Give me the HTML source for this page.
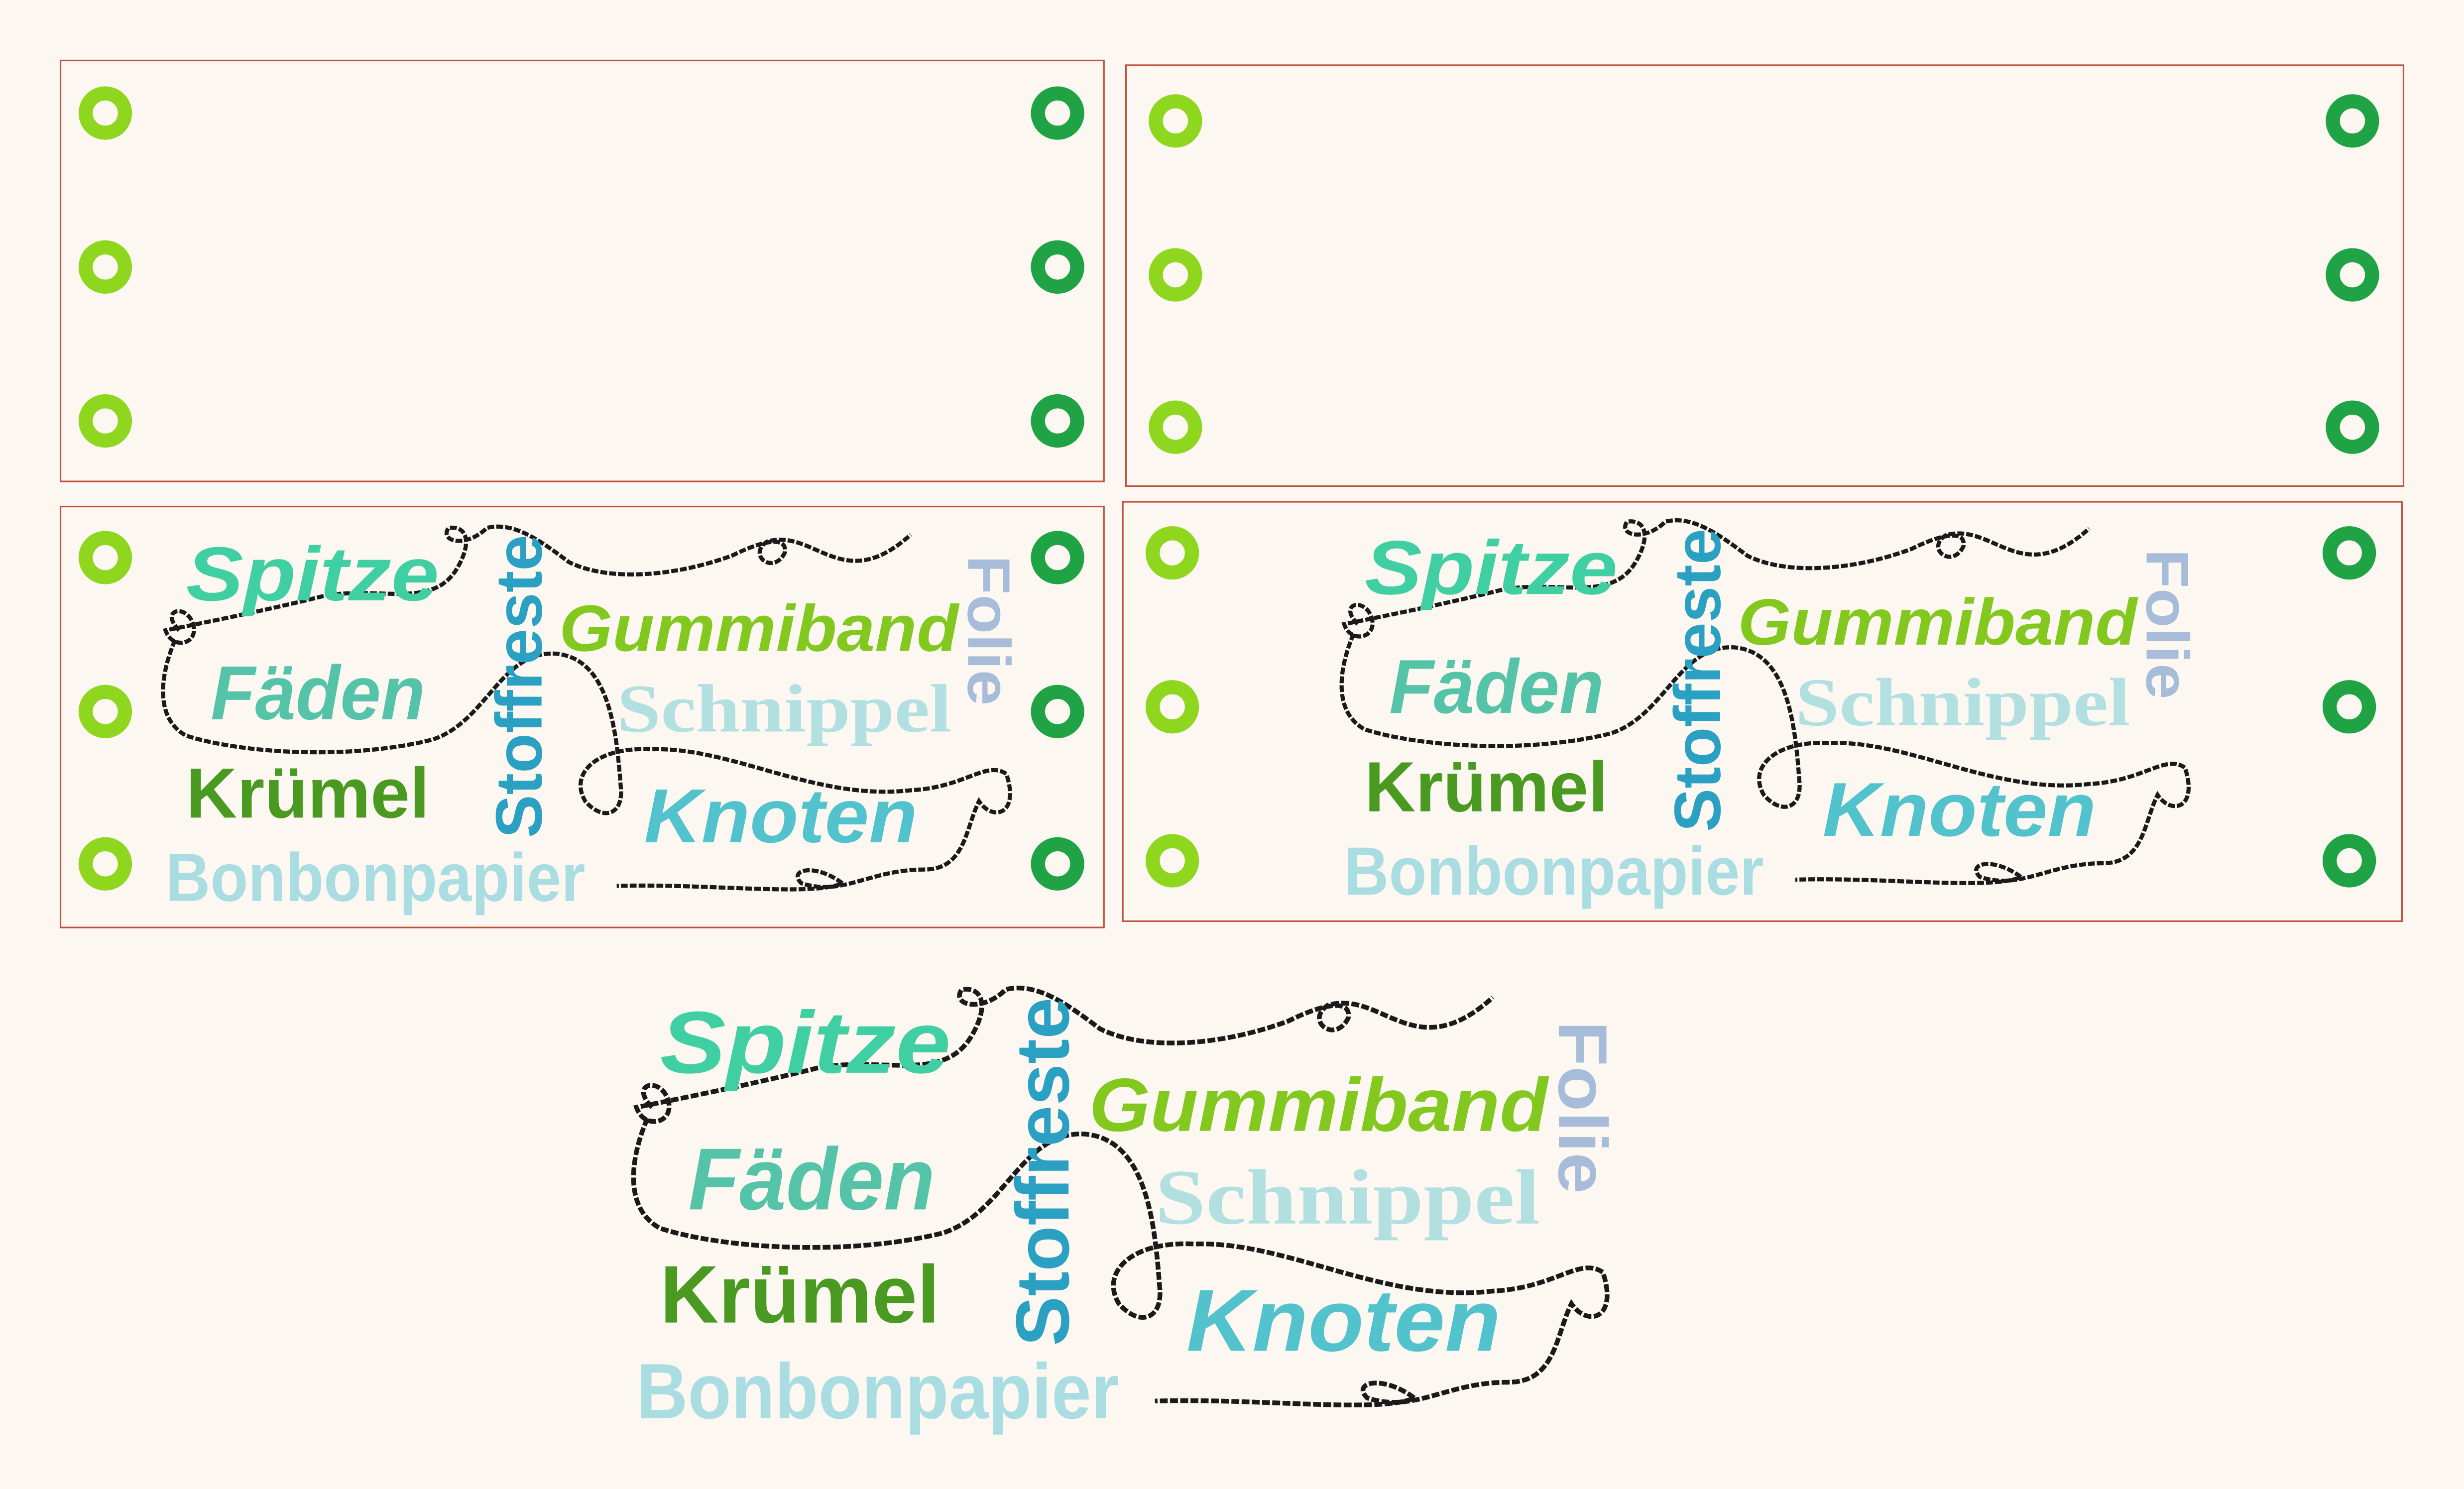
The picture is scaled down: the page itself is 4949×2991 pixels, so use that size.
<!DOCTYPE html>
<html><head><meta charset="utf-8"><style>
html,body{margin:0;padding:0;background:#fdf7f2;}
svg{display:block}
text{font-weight:bold}
</style></head><body>
<svg width="4949" height="2991" viewBox="0 0 1568 948" preserveAspectRatio="none" xmlns="http://www.w3.org/2000/svg">
<defs>
<g id="design">
  <g fill="none" stroke="#1a1a1a" stroke-width="3" stroke-dasharray="5 1.5">
    <path d="M415,705 C400,690 420,685 425,700 C430,715 410,720 405,705 C430,700 480,690 520,680 C560,672 600,690 618,660 C630,640 625,628 612,630 C605,640 625,645 640,630 C660,625 680,640 700,655 C730,670 780,665 820,650 C840,640 860,635 858,648 C850,665 830,650 845,640 C880,630 900,680 950,635"/>
    <path d="M412,712 C400,740 398,770 420,782 C460,795 540,800 600,785 C640,772 650,720 690,722 C730,725 735,780 738,820 C740,840 725,845 712,830 C700,810 720,790 760,792 C820,790 880,830 950,822 C990,820 1005,800 1020,810 C1030,840 1010,845 1000,830 C990,850 990,880 960,880 C920,880 900,900 870,890 C860,880 880,875 900,890 C880,900 800,890 735,892"/>
  </g>
  <text x="420" y="683" font-family="Liberation Sans,sans-serif" font-style="italic" font-size="56" fill="#40cfa2" textLength="185" lengthAdjust="spacingAndGlyphs">Spitze</text>
  <text x="693" y="720" font-family="Liberation Sans,sans-serif" font-style="italic" font-size="48" fill="#82c81e" textLength="292" lengthAdjust="spacingAndGlyphs">Gummiband</text>
  <text x="438" y="770" font-family="Liberation Sans,sans-serif" font-style="italic" font-size="56" fill="#55c3a8" textLength="157" lengthAdjust="spacingAndGlyphs">Fäden</text>
  <text x="735" y="779" font-family="Liberation Serif,serif" font-size="50" fill="#b2e0e0" textLength="245" lengthAdjust="spacingAndGlyphs">Schnippel</text>
  <text x="420" y="842" font-family="Liberation Sans,sans-serif" font-size="52" fill="#4a9a22" textLength="178" lengthAdjust="spacingAndGlyphs">Krümel</text>
  <text x="755" y="860" font-family="Liberation Sans,sans-serif" font-style="italic" font-size="56" fill="#52c3cc" textLength="200" lengthAdjust="spacingAndGlyphs">Knoten</text>
  <text x="405" y="903" font-family="Liberation Sans,sans-serif" font-size="50" fill="#a9dde2" textLength="307" lengthAdjust="spacingAndGlyphs">Bonbonpapier</text>
  <text transform="translate(680,857) rotate(-90)" font-family="Liberation Sans,sans-serif" font-size="48" fill="#2aa0c2" textLength="222" lengthAdjust="spacingAndGlyphs">Stoffreste</text>
  <text transform="translate(992,650) rotate(90)" font-family="Liberation Sans,sans-serif" font-size="44" fill="#a6bcd8" textLength="110" lengthAdjust="spacingAndGlyphs">Folie</text>
</g>
<circle id="rl" r="12.5" fill="none" stroke="#8fd61e" stroke-width="9"/>
<circle id="rd" r="12.5" fill="none" stroke="#1fa345" stroke-width="9"/>
</defs>
<rect width="1568" height="948" fill="#fdf7f2"/>
<g fill="none" stroke="#c0503a" stroke-width="1">
<rect x="38.5" y="38.5" width="664" height="268"/>
<rect x="716.5" y="41.5" width="813" height="268"/>
<rect x="38.5" y="322.5" width="664" height="268"/>
<rect x="714.5" y="319.5" width="814" height="267"/>
</g>
<use href="#rl" x="67" y="72"/><use href="#rl" x="67" y="170"/><use href="#rl" x="67" y="268"/>
<use href="#rd" x="673" y="72"/><use href="#rd" x="673" y="170"/><use href="#rd" x="673" y="268"/>
<use href="#rl" x="748" y="77"/><use href="#rl" x="748" y="175"/><use href="#rl" x="748" y="272"/>
<use href="#rd" x="1497" y="77"/><use href="#rd" x="1497" y="175"/><use href="#rd" x="1497" y="272"/>
<use href="#rl" x="67" y="355"/><use href="#rl" x="67" y="453"/><use href="#rl" x="67" y="550"/>
<use href="#rd" x="673" y="355"/><use href="#rd" x="673" y="453"/><use href="#rd" x="673" y="550"/>
<use href="#rl" x="746" y="352"/><use href="#rl" x="746" y="450"/><use href="#rl" x="746" y="548"/>
<use href="#rd" x="1495" y="352"/><use href="#rd" x="1495" y="450"/><use href="#rd" x="1495" y="548"/>
<use href="#design" transform="translate(-247,-212) scale(0.87)"/>
<use href="#design" transform="translate(503,-216) scale(0.87)"/>
<use href="#design"/>
</svg>
</body></html>
